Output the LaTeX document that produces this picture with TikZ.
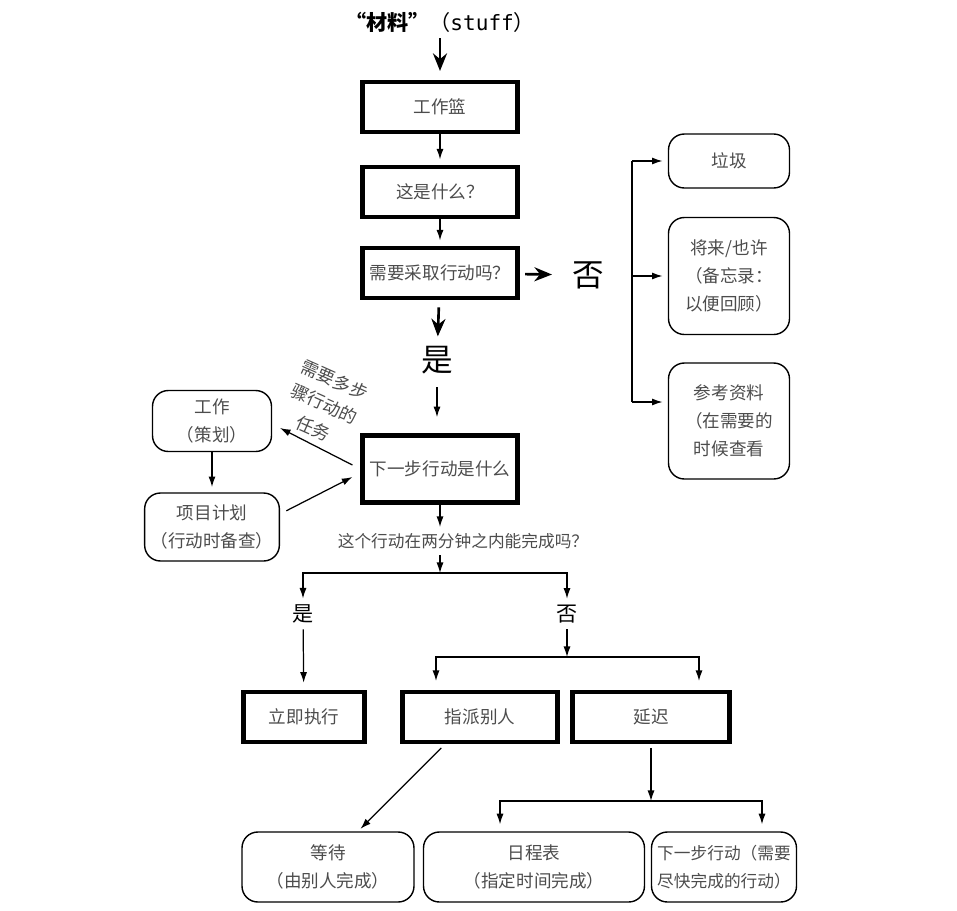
\documentclass[tikz,border=0pt]{standalone}
\usepackage{fontspec}
\setmainfont{Noto Sans CJK SC}
\newfontfamily\stufffont{DejaVu Sans Mono}
\usetikzlibrary{arrows.meta}
\definecolor{boxtext}{gray}{0.3}
\tikzset{
  heavybox/.style={draw, line width=2.6pt, text=boxtext, minimum height=1cm,
    font=\fontsize{10}{12}\selectfont},
  roundbox/.style={draw, rounded corners=9pt, line width=0.8pt, text=boxtext,
    align=center, font=\fontsize{10}{16}\selectfont},
  flow/.style={line width=0.7pt, -{Latex[length=6pt,width=4pt]}},
  bigflow/.style={line width=1.5pt, -{Stealth[length=10pt,width=8pt]}},
  answer/.style={font=\fontsize{18}{20}\selectfont},
  branch/.style={font=\fontsize{12}{14}\selectfont},
}

\begin{document}
\begin{tikzpicture}[x=0.02cm,y=-0.02cm]
\useasboundingbox (0,0) rectangle (957,910);
%\draw[gray!30,very thin] (0,0) grid[step=50] (957,910);
\node (stuff) at (440,22) {\fontsize{12}{14}\selectfont\textbf{“材料”}（{\stufffont stuff}）};
\node[heavybox, minimum width=3.1cm] (basket) at (440,107) {工作篮};
\node[heavybox, minimum width=3.1cm] (what) at (440,192) {这是什么？};
\node[heavybox, minimum width=3.1cm] (act) at (440,273) {需要采取行动吗？};
\node[answer] (no1) at (588,275) {否};
\node[answer] (yes1) at (437,360) {是};
\node[heavybox, minimum width=3.1cm, minimum height=1.35cm] (next) at (440,469) {下一步行动是什么};
\node[text=boxtext, font=\fontsize{9.5}{12}\selectfont] (q2) at (463,541) {这个行动在两分钟之内能完成吗？};
\node[branch] (yes2) at (303,614) {是};
\node[branch] (no2) at (567,614) {否};
\node[heavybox, minimum width=2.42cm] (now) at (304,717) {立即执行};
\node[heavybox, minimum width=3.1cm] (delegate) at (480,717) {指派别人};
\node[heavybox, minimum width=3.14cm] (defer) at (651,717) {延迟};

\node[roundbox, minimum width=3.44cm, minimum height=1.4cm] (wait) at (328,867) {等待\\（由别人完成）};
\node[roundbox, minimum width=4.42cm, minimum height=1.4cm] (calendar) at (534,867) {日程表\\（指定时间完成）};
\node[roundbox, minimum width=2.9cm, minimum height=1.4cm, inner sep=1pt,
  font=\fontsize{9.5}{16}\selectfont] (asap) at (724,867) {下一步行动（需要\\尽快完成的行动）};

\node[roundbox, minimum width=2.42cm, minimum height=1.08cm] (trash) at (729,161) {垃圾};
\node[roundbox, minimum width=2.42cm, minimum height=2.34cm] (someday) at (729,276) {将来/也许\\（备忘录：\\以便回顾）};
\node[roundbox, minimum width=2.42cm, minimum height=2.32cm] (reference) at (729,421) {参考资料\\（在需要的\\时候查看};

\node[roundbox, minimum width=2.38cm, minimum height=1.22cm] (plan) at (212,421) {工作\\（策划）};
\node[roundbox, minimum width=2.38cm, minimum height=1.36cm] (project) at (212,527) {项目计划\\（行动时备查）};
\node[text=boxtext, rotate=-24, align=center, inner sep=1pt, font=\fontsize{10}{15}\selectfont] (multi) at (324,404) {需要多步\\骤行动的\\任务};

\draw[bigflow, shorten >=5pt] (stuff) -- (basket);
\draw[flow, shorten >=3pt] (basket) -- (what);
\draw[flow, shorten >=3pt] (what) -- (act);
\draw[bigflow, shorten <=3pt, shorten >=8pt] (act) -- (no1);
\draw[bigflow, shorten <=4pt, shorten >=2pt] (act) -- (yes1);
\draw[flow, shorten <=4pt, shorten >=9pt] (yes1) -- (yes1 |- next.north);
\draw[flow] (next) -- (next |- q2.north);

\coordinate (fork1) at (440,573);
\draw[flow] (q2.south -| fork1) -- (fork1);
\draw[flow] (fork1) -| (yes2);
\draw[flow] (fork1) -| (no2);
\draw[flow, shorten >=4pt] (yes2) -- (now);

\coordinate (fork2) at (567,657);
\draw[flow] (no2) -- (fork2);
\draw[flow, shorten >=5pt] (fork2) -| ([xshift=-0.88cm]delegate.north);
\draw[flow, shorten >=5pt] (fork2) -| ([xshift=0.96cm]defer.north);

\coordinate (fork3) at (651,801);
\draw[flow, shorten <=2pt] (defer) -- (fork3);
\draw[flow, shorten >=4pt] (fork3) -| ([xshift=-0.68cm]calendar.north);
\draw[flow, shorten >=4pt] (fork3) -| ([xshift=0.76cm]asap.north);
\draw[flow, shorten <=3pt, shorten >=2pt] ([xshift=-0.7cm]delegate.south) -- ([xshift=0.6cm]wait.north);

\coordinate (railtop) at (632,161);
\coordinate (railbot) at (632,402);
\draw[line width=0.7pt] (railtop) -- (railbot);
\draw[flow, shorten >=3pt] (railtop) -- (trash);
\draw[flow, shorten >=3pt] (railtop |- someday) -- (someday);
\draw[flow, shorten >=3pt] (railbot) -- (railbot -| reference.west);

\draw[flow, shorten >=3pt] (plan) -- (project);
\draw[flow, shorten <=5pt, shorten >=5pt] (next.west) -- ([yshift=-0.06cm]plan.east);
\draw[flow, shorten <=4pt, shorten >=5pt] ([yshift=0.26cm]project.east) -- ([yshift=-0.08cm]next.west);
\end{tikzpicture}
\end{document}
